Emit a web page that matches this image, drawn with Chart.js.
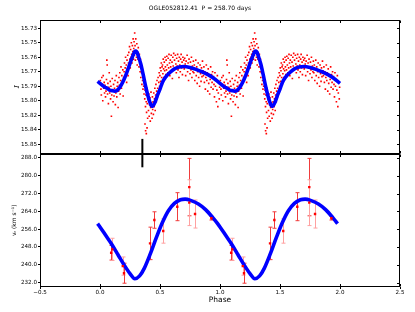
<!DOCTYPE html>
<html><head><meta charset="utf-8">
<script src="https://cdn.jsdelivr.net/npm/chart.js@4.4.1/dist/chart.umd.min.js"></script>
<style>html,body{margin:0;padding:0;background:#fff;}#wrap{width:415px;height:312px;}</style>
</head><body><div id="wrap"><canvas id="c" width="415" height="312"></canvas></div>
<script>
const titleText = 'OGLE052812.41  P = 258.70 days';
const xTickValues = [-0.5, 0, 0.5, 1, 1.5, 2, 2.5];
const xTickLabels = ['\u22120.5', '0.0', '0.5', '1.0', '1.5', '2.0', '2.5'];
const magTickValues = [15.73, 15.745, 15.76, 15.775, 15.79, 15.805, 15.82, 15.835, 15.85];
const magTickLabels = ['15.73', '15.75', '15.76', '15.77', '15.79', '15.80', '15.82', '15.84', '15.85'];
const vrTickValues = [232, 240, 248, 256, 264, 272, 280, 288];
const vrTickLabels = ['232.0', '240.0', '248.0', '256.0', '264.0', '272.0', '280.0', '288.0'];
const cycles = [0, 1];

// fitted light curve over one cycle
const magCurvePhase = [0.00,0.02,0.04,0.06,0.08,0.10,0.12,0.14,0.16,0.18,0.20,0.22,0.24,0.26,0.28,0.29,0.30,0.31,0.32,0.34,0.36,0.38,0.40,0.42,0.43,0.44,0.46,0.48,0.50,0.52,0.55,0.58,0.62,0.66,0.70,0.75,0.80,0.85,0.90,0.95,0.98];
const magCurve = [15.787,15.789,15.791,15.792,15.794,15.7945,15.795,15.7945,15.792,15.788,15.783,15.777,15.770,15.763,15.7565,15.754,15.7535,15.755,15.759,15.767,15.778,15.790,15.800,15.808,15.8105,15.8105,15.806,15.799,15.793,15.786,15.780,15.776,15.772,15.770,15.7695,15.7705,15.7725,15.775,15.778,15.782,15.785];

// fitted velocity curve over one cycle
const vrCurvePhase = [0.00,0.05,0.10,0.15,0.20,0.25,0.29,0.33,0.37,0.42,0.47,0.52,0.57,0.62,0.67,0.71,0.76,0.82,0.88,0.94,0.98];
const vrCurve = [257.0,253.0,249.0,244.5,240.0,236.0,233.7,235.0,238.5,245.0,252.3,259.0,264.3,267.6,269.2,269.5,268.8,267.3,264.8,261.2,258.5];

// radial velocity measurements (one cycle)
const vrObsPhase = [0.093,0.103,0.190,0.200,0.417,0.453,0.527,0.644,0.744,0.744,0.792,0.928];
const vrObs      = [245.4,246.9,239.4,236.2,249.6,260.1,255.2,266.1,274.9,267.9,262.8,260.9];
const vrErr      = [3.3,5.0,4.1,4.5,7.3,3.7,5.5,6.3,12.9,10.3,6.3,0.8];
const vrErrLight = [false,true,true,false,false,false,true,false,false,true,true,false];

// marker line
const markerPhase = 0.353;
const markerMagTop = 15.8444;
const markerVrBottom = 283.8;

// photometry (one cycle): [phase, I mag]
const magObs = [
[0.003,15.784],[0.008,15.793],[0.011,15.799],[0.015,15.781],[0.019,15.788],[0.023,15.805],[0.027,15.779],[0.031,15.792],[0.035,15.786],[0.038,15.797],
[0.042,15.789],[0.046,15.801],[0.050,15.795],[0.054,15.783],[0.057,15.763],[0.060,15.768],[0.063,15.798],[0.066,15.787],[0.070,15.808],[0.074,15.791],[0.077,15.776],
[0.081,15.797],[0.085,15.785],[0.088,15.803],[0.091,15.790],[0.095,15.821],[0.098,15.799],[0.102,15.782],[0.105,15.794],[0.109,15.806],[0.113,15.788],[0.117,15.800],
[0.121,15.792],[0.125,15.784],[0.128,15.809],[0.132,15.797],[0.136,15.779],[0.140,15.801],[0.143,15.790],[0.147,15.786],[0.151,15.812],[0.155,15.795],[0.158,15.781],
[0.161,15.789],[0.165,15.776],[0.168,15.798],[0.172,15.784],[0.175,15.770],[0.179,15.792],[0.182,15.779],[0.186,15.786],[0.190,15.773],[0.193,15.800],[0.197,15.781],
[0.201,15.775],[0.204,15.766],[0.207,15.782],[0.210,15.771],[0.213,15.760],[0.216,15.777],[0.219,15.768],[0.222,15.786],[0.225,15.763],[0.228,15.772],[0.231,15.758],[0.234,15.779],[0.237,15.766],
[0.240,15.755],[0.243,15.768],[0.246,15.749],[0.249,15.762],[0.252,15.771],[0.255,15.752],[0.258,15.760],[0.261,15.745],[0.264,15.757],[0.267,15.766],[0.270,15.748],[0.273,15.754],[0.276,15.741],[0.279,15.762],
[0.281,15.751],[0.284,15.744],[0.287,15.758],[0.289,15.735],[0.292,15.748],[0.295,15.763],[0.298,15.741],[0.301,15.753],[0.304,15.760],[0.307,15.746],[0.310,15.768],[0.313,15.755],[0.316,15.762],[0.319,15.750],
[0.322,15.761],[0.325,15.770],[0.328,15.757],[0.331,15.766],[0.334,15.775],[0.337,15.762],[0.340,15.781],[0.343,15.769],[0.346,15.776],[0.349,15.788],[0.352,15.772],[0.355,15.784],[0.358,15.793],
[0.361,15.779],[0.364,15.790],[0.367,15.798],[0.370,15.786],[0.373,15.803],[0.375,15.829],[0.376,15.794],[0.379,15.811],[0.380,15.836],[0.382,15.799],[0.385,15.806],[0.386,15.839],[0.388,15.817],[0.391,15.792],[0.392,15.833],[0.394,15.808],[0.397,15.823],
[0.401,15.804],[0.404,15.815],[0.407,15.798],[0.410,15.821],[0.413,15.809],[0.416,15.802],[0.419,15.826],[0.422,15.812],[0.425,15.796],[0.428,15.818],[0.431,15.807],[0.434,15.823],[0.437,15.801],[0.439,15.814],
[0.442,15.806],[0.445,15.819],[0.448,15.797],[0.451,15.811],[0.454,15.803],[0.457,15.792],[0.460,15.815],[0.463,15.799],[0.466,15.788],[0.469,15.806],[0.472,15.795],[0.475,15.784],[0.478,15.801],
[0.481,15.792],[0.484,15.781],[0.487,15.798],[0.490,15.786],[0.493,15.776],[0.496,15.790],[0.499,15.779],[0.502,15.771],[0.505,15.785],[0.508,15.774],[0.511,15.766],[0.514,15.781],[0.517,15.770],
[0.521,15.768],[0.524,15.777],[0.527,15.762],[0.530,15.772],[0.533,15.781],[0.536,15.765],[0.539,15.774],[0.542,15.760],[0.545,15.770],[0.548,15.778],[0.551,15.763],[0.554,15.773],[0.557,15.759],
[0.561,15.768],[0.565,15.776],[0.568,15.761],[0.572,15.771],[0.575,15.757],[0.579,15.766],[0.582,15.779],[0.586,15.763],[0.589,15.770],[0.593,15.758],[0.596,15.774],[0.600,15.765],[0.603,15.782],[0.607,15.760],[0.610,15.769],[0.614,15.756],[0.617,15.773],
[0.621,15.763],[0.625,15.771],[0.628,15.758],[0.632,15.767],[0.636,15.776],[0.639,15.761],[0.643,15.769],[0.647,15.757],[0.650,15.773],[0.654,15.764],[0.658,15.781],[0.661,15.760],[0.665,15.768],[0.669,15.775],[0.672,15.762],[0.676,15.757],[0.680,15.771],[0.684,15.765],[0.687,15.778],[0.691,15.760],[0.695,15.769],[0.698,15.763],
[0.702,15.772],[0.706,15.761],[0.710,15.767],[0.714,15.779],[0.718,15.764],[0.722,15.770],[0.726,15.758],[0.730,15.775],[0.734,15.766],[0.738,15.784],[0.742,15.762],[0.746,15.771],[0.750,15.777],[0.754,15.765],[0.758,15.773],[0.762,15.760],[0.766,15.781],[0.770,15.769],[0.774,15.775],[0.778,15.764],
[0.782,15.776],[0.786,15.768],[0.790,15.784],[0.794,15.772],[0.798,15.763],[0.802,15.779],[0.806,15.770],[0.810,15.787],[0.814,15.775],[0.818,15.766],[0.822,15.781],[0.826,15.773],[0.830,15.790],[0.834,15.768],[0.838,15.777],[0.842,15.785],[0.846,15.771],[0.850,15.780],[0.854,15.764],[0.858,15.774],
[0.862,15.779],[0.866,15.770],[0.870,15.786],[0.874,15.775],[0.878,15.793],[0.882,15.781],[0.886,15.768],[0.890,15.784],[0.894,15.776],[0.898,15.795],[0.902,15.772],[0.906,15.787],[0.910,15.779],[0.914,15.798],[0.918,15.783],[0.922,15.770],[0.926,15.791],[0.930,15.778],[0.934,15.786],[0.938,15.775],
[0.942,15.793],[0.946,15.780],[0.950,15.788],[0.954,15.801],[0.958,15.776],[0.962,15.790],[0.966,15.783],[0.970,15.806],[0.974,15.794],[0.978,15.779],[0.982,15.811],[0.986,15.797],[0.990,15.786],[0.994,15.803],[0.997,15.791]
];

function buildCurve(ph, val, from, to) {
  const out = [];
  for (let k = -1; k <= 2; k++) {
    for (let i = 0; i < ph.length; i++) {
      const p = +(ph[i] + k).toFixed(4);
      if (p >= from - 1e-9 && p <= to + 1e-9) out.push({x: p, y: val[i]});
    }
  }
  return out.sort((a, b) => a.x - b.x);
}
const magObsPts = [];
cycles.forEach(k => magObs.forEach(d => magObsPts.push({x: d[0] + k, y: d[1]})));
const vrObsPts = [];
cycles.forEach(k => vrObsPhase.forEach((p, i) => vrObsPts.push({x: p + k, y: vrObs[i]})));

const tickFont = {family: 'DejaVu Sans', size: 5.6};

const panelPlugin = {
  id: 'panels',
  beforeDatasetsDraw(chart) {
    const ctx = chart.ctx, x = chart.scales.x, yv = chart.scales.yVr;
    ctx.save();
    ctx.lineWidth = 1;
    cycles.forEach(k => vrObsPhase.forEach((p, i) => {
      const px = Math.round(x.getPixelForValue(p + k)) + 0.5;
      const y1 = yv.getPixelForValue(vrObs[i] - vrErr[i]);
      const y2 = yv.getPixelForValue(vrObs[i] + vrErr[i]);
      ctx.strokeStyle = vrErrLight[i] ? '#ffa0a0' : '#f03c3c';
      ctx.beginPath();
      ctx.moveTo(px, y1); ctx.lineTo(px, y2);
      ctx.moveTo(px - 2, y1); ctx.lineTo(px + 2, y1);
      ctx.moveTo(px - 2, y2); ctx.lineTo(px + 2, y2);
      ctx.stroke();
    }));
    ctx.restore();
  },
  afterDraw(chart) {
    const ctx = chart.ctx, x = chart.scales.x, ym = chart.scales.yMag, yv = chart.scales.yVr;
    const L = Math.round(chart.chartArea.left) + 0.5, R = Math.round(chart.chartArea.right) - 0.5;
    ctx.save();
    ctx.strokeStyle = '#000';
    ctx.lineWidth = 1;
    [ym, yv].forEach(s => {
      const T = Math.round(s.top) + 0.5, B = Math.round(s.bottom) - 0.5;
      ctx.strokeRect(L, T, R - L, B - T);
      ctx.beginPath();
      xTickValues.forEach(v => {
        const px = Math.round(x.getPixelForValue(v)) + 0.5;
        ctx.moveTo(px, T); ctx.lineTo(px, T + 2.5);
        ctx.moveTo(px, B); ctx.lineTo(px, B - 2.5);
      });
      s.ticks.forEach(t => {
        const py = Math.round(s.getPixelForValue(t.value)) + 0.5;
        ctx.moveTo(R, py); ctx.lineTo(R - 2.5, py);
      });
      ctx.stroke();
    });
    // marker line across panels
    const mx = x.getPixelForValue(markerPhase);
    ctx.lineWidth = 2;
    ctx.beginPath();
    ctx.moveTo(mx, ym.getPixelForValue(markerMagTop));
    ctx.lineTo(mx, yv.getPixelForValue(markerVrBottom));
    ctx.stroke();
    ctx.restore();
  }
};

new Chart(document.getElementById('c'), {
  type: 'scatter',
  data: {
    datasets: [
      {label: 'vr obs', data: vrObsPts, yAxisID: 'yVr', pointStyle: 'rect', pointRadius: 1.7,
       backgroundColor: '#ff0000', borderColor: '#ff0000', borderWidth: 0},
      {label: 'vr fit', type: 'line', data: buildCurve(vrCurvePhase, vrCurve, -0.02, 1.98), yAxisID: 'yVr',
       borderColor: '#0000ff', borderWidth: 3.6, pointRadius: 0, cubicInterpolationMode: 'monotone', fill: false},
      {label: 'I fit', type: 'line', data: buildCurve(magCurvePhase, magCurve, -0.02, 2.0), yAxisID: 'yMag',
       borderColor: '#0000ff', borderWidth: 3.6, pointRadius: 0, cubicInterpolationMode: 'monotone', fill: false},
      {label: 'I obs', data: magObsPts, yAxisID: 'yMag', pointStyle: 'rect', pointRadius: 1.15,
       backgroundColor: '#ff0000', borderColor: '#ff0000', borderWidth: 0}
    ]
  },
  options: {
    responsive: false, animation: false, devicePixelRatio: 1,
    layout: {padding: {left: 0, right: 15, top: 0, bottom: 0}},
    plugins: {
      legend: {display: false}, tooltip: {enabled: false},
      title: {display: true, text: titleText, color: '#000',
              font: {family: 'DejaVu Sans', size: 6, weight: 'normal'}, padding: {top: 4.4, bottom: 8.4}}
    },
    scales: {
      x: {type: 'linear', position: 'bottom', min: -0.5, max: 2.5,
          afterBuildTicks: s => { s.ticks = xTickValues.map(v => ({value: v})); },
          afterFit: s => { s.height = 25; },
          ticks: {callback: (v, i) => xTickLabels[i], font: tickFont, color: '#000', padding: 0, maxRotation: 0, autoSkip: false},
          grid: {display: true, drawOnChartArea: false, drawTicks: true, tickLength: 2, color: '#000'},
          border: {display: false},
          title: {display: true, text: 'Phase', color: '#000', font: {family: 'DejaVu Sans', size: 7.5}, padding: {top: 0, bottom: 7}}},
      yMag: {type: 'linear', position: 'left', stack: 'panels', stackWeight: 1, weight: 2, reverse: true,
          min: 15.7215, max: 15.8595,
          afterBuildTicks: s => { s.ticks = magTickValues.map(v => ({value: v})); },
          afterFit: s => { s.width = 40; },
          ticks: {callback: (v, i) => magTickLabels[i], font: tickFont, color: '#000', padding: 1, autoSkip: false},
          grid: {display: true, drawOnChartArea: false, drawTicks: true, tickLength: 2, color: '#000'},
          border: {display: false},
          title: {display: true, text: 'I', color: '#000', font: {family: 'DejaVu Serif', size: 8, style: 'italic'}, padding: {top: 12}}},
      yVr: {type: 'linear', position: 'left', stack: 'panels', stackWeight: 1, weight: 1,
          min: 230, max: 290,
          afterBuildTicks: s => { s.ticks = vrTickValues.map(v => ({value: v})); },
          afterFit: s => { s.width = 40; },
          ticks: {callback: (v, i) => vrTickLabels[i], font: tickFont, color: '#000', padding: 1, autoSkip: false},
          grid: {display: true, drawOnChartArea: false, drawTicks: true, tickLength: 2, color: '#000'},
          border: {display: false},
          title: {display: true, text: 'v\u1D63 (km s\u207B\u00B9)', color: '#000', font: {family: 'DejaVu Sans', size: 6}, padding: {top: 11}}}
    }
  },
  plugins: [panelPlugin]
});
</script>
</body></html>
